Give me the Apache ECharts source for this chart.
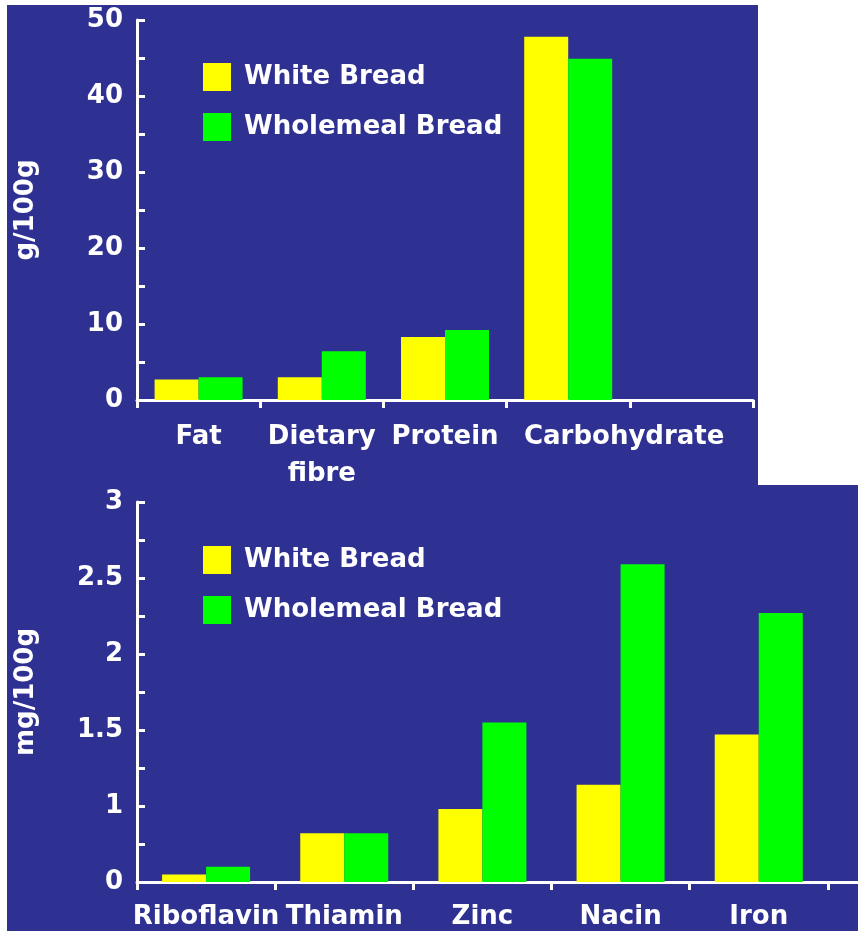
<!DOCTYPE html>
<html>
<head>
<meta charset="utf-8">
<script src="https://cdn.jsdelivr.net/npm/echarts@6/dist/echarts.min.js"></script>
<style>
html,body{margin:0;padding:0;background:#fff;overflow:hidden;width:858px;height:931px;}
#c{width:1000px;height:931px;}
</style>
</head>
<body>
<div id="c"></div>
<script>
// ---- data ----
var seriesNames = ['White Bread', 'Wholemeal Bread'];
var topCategories = ['Fat', 'Dietary\nfibre', 'Protein', 'Carbohydrate', ''];
var topWhite = [2.7, 3.0, 8.3, 47.8, null];
var topWholemeal = [3.0, 6.4, 9.2, 44.9, null];
var topYName = 'g/100g';

var botCategories = ['Riboflavin', 'Thiamin', 'Zinc', 'Nacin', 'Iron', ''];
var botWhite = [0.55, 0.82, 0.98, 1.14, 1.47, null];
var botWholemeal = [0.60, 0.82, 1.55, 2.59, 2.27, null];
var botYName = 'mg/100g';
var botTickLabels = {'0.5': '0', '1': '1', '1.5': '1.5', '2': '2', '2.5': '2.5', '3': '3'};

var BG = '#2E3192';
var YELLOW = '#FFFF00';
var GREEN = '#00FF00';
var FONT = 'DejaVu Sans';
var FS = 26;
var FW = 'bold';

var chart = echarts.init(document.getElementById('c'), null, {renderer: 'canvas'});

function axisLine() { return {show: true, lineStyle: {color: '#fff', width: 3}}; }
function textStyle() { return {color: '#fff', fontFamily: FONT, fontSize: FS, fontWeight: FW}; }
function legendText() { return {color: '#fff', fontFamily: FONT, fontSize: FS, fontWeight: FW, padding: [0, 0, 0, 8], lineHeight: 28}; }

var option = {
  backgroundColor: '#fff',
  animation: false,
  graphic: [
    {type: 'rect', z: -100, shape: {x: 7, y: 5, width: 751, height: 480}, style: {fill: BG}},
    {type: 'rect', z: -100, shape: {x: 7, y: 485, width: 993, height: 446}, style: {fill: BG}}
  ],
  grid: [
    {left: 137, top: 20, width: 616, height: 380},
    {left: 137, top: 502, width: 829, height: 380}
  ],
  legend: [
    {
      orient: 'vertical', left: 203, top: 63, itemWidth: 28, itemHeight: 28, itemGap: 22,
      icon: 'rect', padding: 0, textStyle: legendText(), data: seriesNames.slice()
    },
    {
      orient: 'vertical', left: 203, top: 546, itemWidth: 28, itemHeight: 28, itemGap: 22,
      icon: 'rect', padding: 0, textStyle: legendText(), data: seriesNames.slice()
    }
  ],
  xAxis: [
    {
      type: 'category', gridIndex: 0, data: topCategories,
      axisLine: axisLine(),
      axisTick: {show: true, length: 8, lineStyle: {color: '#fff', width: 3}},
      axisLabel: Object.assign(textStyle(), {
        interval: 0, margin: 19, lineHeight: 37,
        formatter: function (v) { return v === 'Carbohydrate' ? '{c|' + v + '}' : v; },
        rich: {c: {color: '#fff', fontFamily: FONT, fontSize: FS, fontWeight: FW, padding: [0, 0, 0, 112]}}
      })
    },
    {
      type: 'category', gridIndex: 1, data: botCategories,
      axisLine: axisLine(),
      axisTick: {show: true, length: 8, lineStyle: {color: '#fff', width: 3}},
      axisLabel: Object.assign(textStyle(), {interval: 0, margin: 22})
    }
  ],
  yAxis: [
    {
      type: 'value', gridIndex: 0, min: 0, max: 50, interval: 5,
      name: topYName, nameLocation: 'middle', nameGap: 98, nameRotate: 90,
      nameTextStyle: textStyle(),
      axisLine: axisLine(),
      axisTick: {show: true, inside: true, length: 8, lineStyle: {color: '#fff', width: 3}},
      splitLine: {show: false},
      axisLabel: Object.assign(textStyle(), {
        margin: 14,
        formatter: function (v) { return v % 10 === 0 ? String(v) : ''; }
      })
    },
    {
      type: 'value', gridIndex: 1, min: 0.5, max: 3, interval: 0.25,
      name: botYName, nameLocation: 'middle', nameGap: 98, nameRotate: 90,
      nameTextStyle: textStyle(),
      axisLine: axisLine(),
      axisTick: {show: true, inside: true, length: 8, lineStyle: {color: '#fff', width: 3}},
      splitLine: {show: false},
      axisLabel: Object.assign(textStyle(), {
        margin: 14,
        formatter: function (v) { var k = String(v); return botTickLabels.hasOwnProperty(k) ? botTickLabels[k] : ''; }
      })
    }
  ],
  series: [
    {name: seriesNames[0], type: 'bar', xAxisIndex: 0, yAxisIndex: 0, data: topWhite, barWidth: 44, barGap: '0%', itemStyle: {color: YELLOW}},
    {name: seriesNames[1], type: 'bar', xAxisIndex: 0, yAxisIndex: 0, data: topWholemeal, barWidth: 44, barGap: '0%', itemStyle: {color: GREEN}},
    {name: seriesNames[0], type: 'bar', xAxisIndex: 1, yAxisIndex: 1, data: botWhite, barWidth: 44, barGap: '0%', clip: true, itemStyle: {color: YELLOW}},
    {name: seriesNames[1], type: 'bar', xAxisIndex: 1, yAxisIndex: 1, data: botWholemeal, barWidth: 44, barGap: '0%', clip: true, itemStyle: {color: GREEN}}
  ]
};
chart.setOption(option);
</script>
</body>
</html>
